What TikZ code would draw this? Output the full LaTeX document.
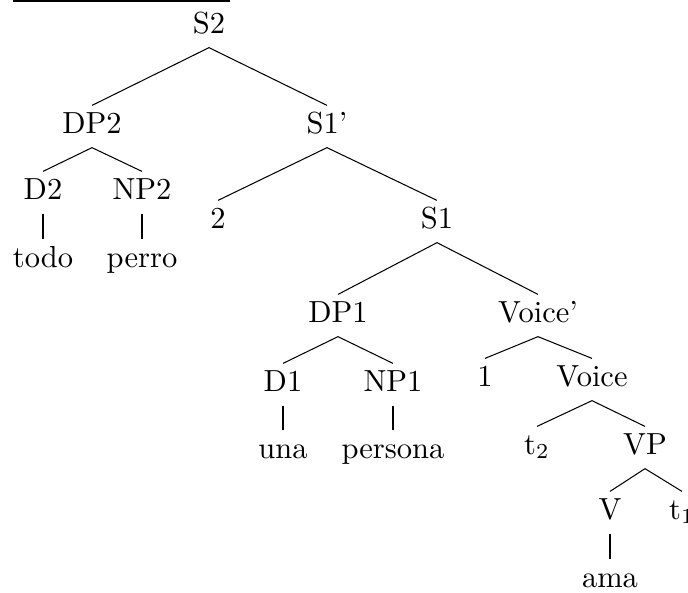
\documentclass[tikz,border=0pt]{standalone}
\usepackage{tikz}
\tikzset{
  nd/.style={inner sep=0pt, anchor=base, text height=8.85pt, text depth=4.6pt},
  br/.style={draw=black, line width=0.34pt},
}

\begin{document}
\begin{tikzpicture}[x=0.3279pt, y=-0.3279pt]
\useasboundingbox (0,0) rectangle (688,592);

% rule along the top edge
\coordinate (rl) at (13,1);
\coordinate (rr) at (230,1);
\draw[br] (rl) -- (rr);

% subject quantifier
\node[nd] (s2)   at (209,33)  {S2};
\node[nd] (dp2)  at (92,133)  {DP2};
\node[nd] (s1b)  at (327,133) {S1'};
\node[nd] (d2)   at (43,199)  {D2};
\node[nd] (np2)  at (142,199) {NP2};
\node[nd] (todo) at (43,267)  {todo};
\node[nd] (perro) at (142,267) {perro};
\node[nd] (i2)   at (218,228) {2};
\node[nd] (s1)   at (437,228) {S1};

% object quantifier and the clause
\node[nd] (dp1)  at (338,322) {DP1};
\node[nd] (vcb)  at (538,322) {Voice'};
\node[nd] (d1)   at (283,391) {D1};
\node[nd] (np1)  at (393,391) {NP1};
\node[nd] (una)  at (283,458) {una};
\node[nd] (pers) at (393,458) {persona};
\node[nd] (i1)   at (485,386) {1};
\node[nd] (vc)   at (592,386) {Voice};
\node[nd] (t2)   at (537,454) {t$_2$};
\node[nd] (vp)   at (645,454) {VP};
\node[nd] (v)    at (610,519) {V};
\node[nd] (t1)   at (682,519) {t$_1$};
\node[nd] (ama)  at (610,587) {ama};

% branches
\draw[br] (s2.south)  -- (dp2.north);
\draw[br] (s2.south)  -- (s1b.north);
\draw[br] (dp2.south) -- (d2.north);
\draw[br] (dp2.south) -- (np2.north);
\draw[br] (d2.south)  -- (todo.north);
\draw[br] (np2.south) -- (perro.north);
\draw[br] (s1b.south) -- (i2.north);
\draw[br] (s1b.south) -- (s1.north);
\draw[br] (s1.south)  -- (dp1.north);
\draw[br] (s1.south)  -- (vcb.north);
\draw[br] (dp1.south) -- (d1.north);
\draw[br] (dp1.south) -- (np1.north);
\draw[br] (d1.south)  -- (una.north);
\draw[br] (np1.south) -- (pers.north);
\draw[br] (vcb.south) -- (i1.north);
\draw[br] (vcb.south) -- (vc.north);
\draw[br] (vc.south)  -- (t2.north);
\draw[br] (vc.south)  -- (vp.north);
\draw[br] (vp.south)  -- (v.north);
\draw[br] (vp.south)  -- (t1.north);
\draw[br] (v.south)   -- (ama.north);
\end{tikzpicture}
\end{document}
